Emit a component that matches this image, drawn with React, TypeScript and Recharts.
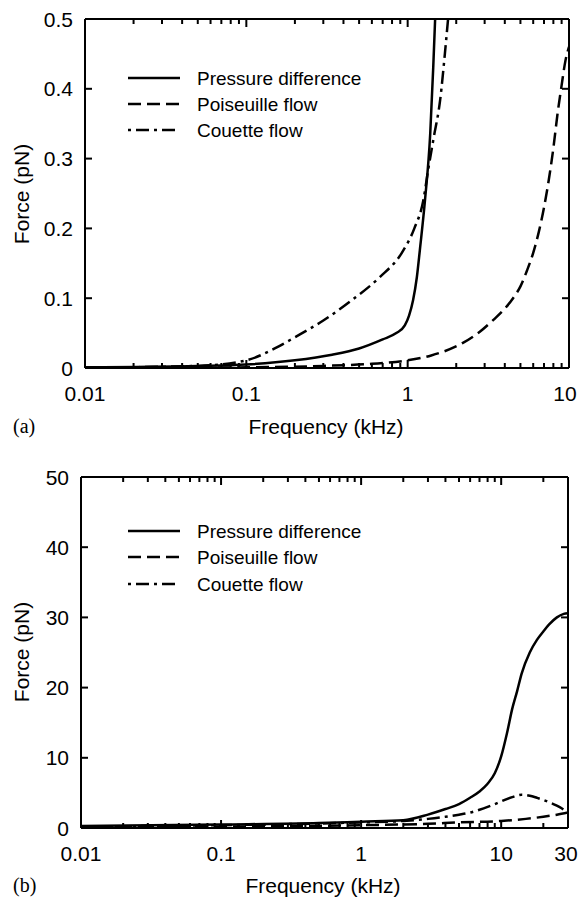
import React from "react";
import { LineChart, Line, XAxis, YAxis } from "recharts";

// ---- panel (a) data: frequency (kHz) vs force (pN) ----
const pressureA = [
  { x: 0.01, y: 0.001 }, { x: 0.05, y: 0.003 }, { x: 0.1, y: 0.005 }, { x: 0.2, y: 0.011 },
  { x: 0.34, y: 0.019 }, { x: 0.5, y: 0.028 }, { x: 0.7, y: 0.041 }, { x: 0.85, y: 0.05 },
  { x: 0.96, y: 0.061 }, { x: 1.02, y: 0.075 }, { x: 1.08, y: 0.097 }, { x: 1.14, y: 0.13 },
  { x: 1.19, y: 0.169 }, { x: 1.28, y: 0.24 }, { x: 1.38, y: 0.336 }, { x: 1.44, y: 0.43 },
  { x: 1.48, y: 0.5 },
];
const poiseuilleA = [
  { x: 0.01, y: 0.0 }, { x: 0.1, y: 0.001 }, { x: 0.3, y: 0.003 }, { x: 0.6, y: 0.006 },
  { x: 1.0, y: 0.011 }, { x: 1.4, y: 0.018 }, { x: 2.2, y: 0.036 }, { x: 2.8, y: 0.052 },
  { x: 3.4, y: 0.069 }, { x: 4.0, y: 0.085 }, { x: 4.5, y: 0.1 }, { x: 5.0, y: 0.117 },
  { x: 5.5, y: 0.14 }, { x: 6.0, y: 0.165 }, { x: 6.5, y: 0.195 }, { x: 7.0, y: 0.23 },
  { x: 7.5, y: 0.27 }, { x: 8.0, y: 0.315 }, { x: 8.5, y: 0.365 }, { x: 9.0, y: 0.405 },
  { x: 9.5, y: 0.44 }, { x: 10, y: 0.46 },
];
const couetteA = [
  { x: 0.01, y: 0.0005 }, { x: 0.05, y: 0.003 }, { x: 0.1, y: 0.011 }, { x: 0.15, y: 0.028 },
  { x: 0.2, y: 0.044 }, { x: 0.3, y: 0.068 }, { x: 0.45, y: 0.097 }, { x: 0.67, y: 0.13 },
  { x: 0.92, y: 0.165 }, { x: 1.1, y: 0.2 }, { x: 1.25, y: 0.24 }, { x: 1.34, y: 0.284 },
  { x: 1.45, y: 0.33 }, { x: 1.59, y: 0.384 }, { x: 1.71, y: 0.456 }, { x: 1.78, y: 0.5 },
];

// ---- panel (b) data ----
const pressureB = [
  { x: 0.01, y: 0.3 }, { x: 0.1, y: 0.5 }, { x: 0.5, y: 0.7 }, { x: 1, y: 0.9 },
  { x: 2, y: 1.1 }, { x: 3, y: 1.9 }, { x: 4, y: 2.7 }, { x: 5, y: 3.4 }, { x: 6, y: 4.3 },
  { x: 7, y: 5.2 }, { x: 8, y: 6.3 }, { x: 9, y: 7.8 }, { x: 10, y: 10.2 }, { x: 11, y: 13.5 },
  { x: 12, y: 17.0 }, { x: 13, y: 19.5 }, { x: 14, y: 22.0 }, { x: 16, y: 25.0 },
  { x: 18, y: 26.8 }, { x: 20, y: 28.0 }, { x: 22, y: 29.0 }, { x: 25, y: 30.0 },
  { x: 28, y: 30.5 }, { x: 30, y: 30.6 },
];
const poiseuilleB = [
  { x: 0.01, y: 0.1 }, { x: 0.1, y: 0.2 }, { x: 1, y: 0.4 }, { x: 3, y: 0.6 },
  { x: 5, y: 0.8 }, { x: 10, y: 1.0 }, { x: 15, y: 1.3 }, { x: 20, y: 1.6 },
  { x: 25, y: 1.9 }, { x: 30, y: 2.2 },
];
const couetteB = [
  { x: 0.01, y: 0.2 }, { x: 0.1, y: 0.4 }, { x: 1, y: 0.8 }, { x: 2, y: 1.0 },
  { x: 3, y: 1.3 }, { x: 4, y: 1.6 }, { x: 5, y: 1.9 }, { x: 6, y: 2.2 }, { x: 7, y: 2.6 },
  { x: 8, y: 3.0 }, { x: 9, y: 3.4 }, { x: 10, y: 3.8 }, { x: 12, y: 4.4 }, { x: 14, y: 4.75 },
  { x: 16, y: 4.6 }, { x: 18, y: 4.3 }, { x: 20, y: 4.0 }, { x: 23, y: 3.5 },
  { x: 26, y: 3.0 }, { x: 28, y: 2.6 }, { x: 30, y: 2.1 },
];

// ---- ticks ----
const majorXA = [0.01, 0.1, 1, 10];
const minorXA = [
  0.02, 0.03, 0.04, 0.05, 0.06, 0.07, 0.08, 0.09,
  0.2, 0.3, 0.4, 0.5, 0.6, 0.7, 0.8, 0.9,
  2, 3, 4, 5, 6, 7, 8, 9,
];
const majorXB = [0.01, 0.1, 1, 10, 30];
const minorXB = [...minorXA, 20];
const ticksYA = [0, 0.1, 0.2, 0.3, 0.4, 0.5];
const ticksYB = [0, 10, 20, 30, 40, 50];

const seriesNames = ["Pressure difference", "Poiseuille flow", "Couette flow"];
const dashes = ["", "13 6", "3 5 13 5"];

const FONT = "Liberation Sans, Arial, sans-serif";
const SERIF = "Liberation Serif, Times New Roman, serif";

// ---- tick renderers ----
// labels only (data chart)
const makeBottomLabel = (majors: number[], lastShift: number) => (props: any) => {
  const { x, y, payload } = props;
  if (!majors.includes(payload.value)) return <g />;
  const isLast = payload.value === majors[majors.length - 1];
  return (
    <text x={Number(x) + (isLast ? lastShift : 0)} y={Number(y) + 25} textAnchor="middle"
      dominantBaseline="central" fontSize={21} fontFamily={FONT} fill="#000">
      {String(payload.value)}
    </text>
  );
};
const LeftLabel = (props: any) => {
  const { x, y, payload } = props;
  return (
    <text x={Number(x) - 12} y={y} textAnchor="end" dominantBaseline="central"
      fontSize={21} fontFamily={FONT} fill="#000">
      {String(payload.value)}
    </text>
  );
};

// tick marks only (frame chart), all pointing into the plot
const makeBottomMark = (majors: number[]) => (props: any) => {
  const { x, y, payload } = props;
  const len = majors.includes(payload.value) ? 8 : 5;
  return <path d={`M${x},${y}V${Number(y) - len}`} stroke="#000" strokeWidth={2} fill="none" />;
};
const makeTopMark = (majors: number[]) => (props: any) => {
  const { x, y, payload } = props;
  const len = majors.includes(payload.value) ? 8 : 5;
  return <path d={`M${x},${y}V${Number(y) + len}`} stroke="#000" strokeWidth={2} fill="none" />;
};
const LeftMark = (props: any) => {
  const { x, y } = props;
  return <path d={`M${x},${y}H${Number(x) + 7}`} stroke="#000" strokeWidth={2} fill="none" />;
};
const RightMark = (props: any) => {
  const { x, y } = props;
  return <path d={`M${x},${y}H${Number(x) - 7}`} stroke="#000" strokeWidth={2} fill="none" />;
};

// legend + axis titles drawn as plain svg children of each data chart
const Decor = ({ rows, yMid, xMid, xTitleY, tag }: any) => (
  <g>
    {seriesNames.map((name, i) => (
      <g key={name}>
        <line x1={128} x2={180} y1={rows[i]} y2={rows[i]} stroke="#000" strokeWidth={2.5}
          strokeDasharray={dashes[i] || undefined} />
        <text x={197} y={rows[i]} dominantBaseline="central" fontSize={19} fontFamily={FONT} fill="#000">
          {name}
        </text>
      </g>
    ))}
    <text x={21} y={yMid} transform={`rotate(-90 21 ${yMid})`} textAnchor="middle" dominantBaseline="central"
      fontSize={21} fontFamily={FONT} fill="#000">Force (pN)</text>
    <text x={xMid} y={xTitleY} textAnchor="middle" dominantBaseline="central" fontSize={21} fontFamily={FONT}
      fill="#000">Frequency (kHz)</text>
    <text x={13} y={xTitleY} dominantBaseline="central" fontSize={20} fontFamily={SERIF} fill="#000">{tag}</text>
  </g>
);

// data chart: curves, tick labels, legend, titles
const DataChart = ({ height, left, right, bottom, xDomain, majors, minors, yDomain, yTicks, sets, lastShift, decor }: any) => (
  <LineChart width={579} height={height} margin={{ top: 19, right, left: 0, bottom: 0 }}>
    <XAxis dataKey="x" type="number" scale="log" domain={xDomain} allowDataOverflow
      ticks={[...majors, ...minors]} interval={0} height={bottom} tickSize={0} tickMargin={0}
      tick={makeBottomLabel(majors, lastShift)} axisLine={{ stroke: "#000", strokeWidth: 2 }} tickLine={false} />
    <YAxis type="number" domain={yDomain} allowDataOverflow ticks={yTicks} interval={0}
      width={left} tickSize={0} tickMargin={0} tick={LeftLabel}
      axisLine={{ stroke: "#000", strokeWidth: 2 }} tickLine={false} />
    <Line data={sets[0]} dataKey="y" name={seriesNames[0]} type="monotone" stroke="#000" strokeWidth={2.5}
      dot={false} isAnimationActive={false} />
    <Line data={sets[1]} dataKey="y" name={seriesNames[1]} type="monotone" stroke="#000" strokeWidth={2.5}
      strokeDasharray={dashes[1]} dot={false} isAnimationActive={false} />
    <Line data={sets[2]} dataKey="y" name={seriesNames[2]} type="monotone" stroke="#000" strokeWidth={2.5}
      strokeDasharray={dashes[2]} dot={false} isAnimationActive={false} />
    {decor}
  </LineChart>
);

// frame chart: the closed box with inward ticks on all four sides
const FrameChart = ({ height, left, right, bottom, xDomain, majors, minors, yDomain, yTicks, guide }: any) => (
  <LineChart width={579} height={height} margin={{ top: 0, right: 0, left: 0, bottom: 0 }}>
    <XAxis xAxisId="b" dataKey="x" type="number" scale="log" domain={xDomain} allowDataOverflow
      ticks={[...majors, ...minors]} interval={0} height={bottom} tickSize={0} tickMargin={0}
      tick={makeBottomMark(majors)} axisLine={{ stroke: "#000", strokeWidth: 2 }} tickLine={false} />
    <XAxis xAxisId="t" orientation="top" dataKey="x" type="number" scale="log" domain={xDomain}
      allowDataOverflow ticks={[...majors, ...minors]} interval={0} height={19} tickSize={0} tickMargin={0}
      tick={makeTopMark(majors)} axisLine={{ stroke: "#000", strokeWidth: 2 }} tickLine={false} />
    <YAxis yAxisId="l" type="number" domain={yDomain} allowDataOverflow ticks={yTicks} interval={0}
      width={left} tickSize={0} tickMargin={0} tick={LeftMark}
      axisLine={{ stroke: "#000", strokeWidth: 2 }} tickLine={false} />
    <YAxis yAxisId="r" orientation="right" type="number" domain={yDomain} allowDataOverflow
      ticks={yTicks} interval={0} width={right} tickSize={0} tickMargin={0} tick={RightMark}
      axisLine={{ stroke: "#000", strokeWidth: 2 }} tickLine={false} />
    <Line xAxisId="t" yAxisId="r" data={guide} dataKey="y" stroke="#000" strokeOpacity={0}
      dot={false} isAnimationActive={false} />
    <Line xAxisId="b" yAxisId="l" data={guide} dataKey="y" stroke="#000" strokeOpacity={0}
      dot={false} isAnimationActive={false} />
  </LineChart>
);

const layer: React.CSSProperties = { position: "absolute", left: 0, top: 0 };

export default function App() {
  return (
    <div style={{ position: "absolute", left: 0, top: 0 }}>
      <div style={{ position: "absolute", left: 0, top: 0, width: 579, height: 450 }}>
        <div style={layer}>
          <DataChart height={450} left={85} right={10} bottom={82} xDomain={[0.01, 10]}
            majors={majorXA} minors={minorXA} yDomain={[0, 0.5]} yTicks={ticksYA}
            sets={[pressureA, poiseuilleA, couetteA]} lastShift={-4}
            decor={<Decor rows={[78, 104, 130]} yMid={194} xMid={326} xTitleY={426} tag="(a)" />} />
        </div>
        <div style={layer}>
          <FrameChart height={450} left={85} right={10} bottom={82} xDomain={[0.01, 10]}
            majors={majorXA} minors={minorXA} yDomain={[0, 0.5]} yTicks={ticksYA}
            guide={pressureA.slice(0, 4)} />
        </div>
      </div>
      <div style={{ position: "absolute", left: 0, top: 458, width: 579, height: 440 }}>
        <div style={layer}>
          <DataChart height={440} left={81} right={11} bottom={70} xDomain={[0.01, 30]}
            majors={majorXB} minors={minorXB} yDomain={[0, 50]} yTicks={ticksYB}
            sets={[pressureB, poiseuilleB, couetteB]} lastShift={-2}
            decor={<Decor rows={[73, 99, 126]} yMid={194} xMid={323} xTitleY={427} tag="(b)" />} />
        </div>
        <div style={layer}>
          <FrameChart height={440} left={81} right={11} bottom={70} xDomain={[0.01, 30]}
            majors={majorXB} minors={minorXB} yDomain={[0, 50]} yTicks={ticksYB}
            guide={pressureB.slice(0, 4)} />
        </div>
      </div>
    </div>
  );
}
